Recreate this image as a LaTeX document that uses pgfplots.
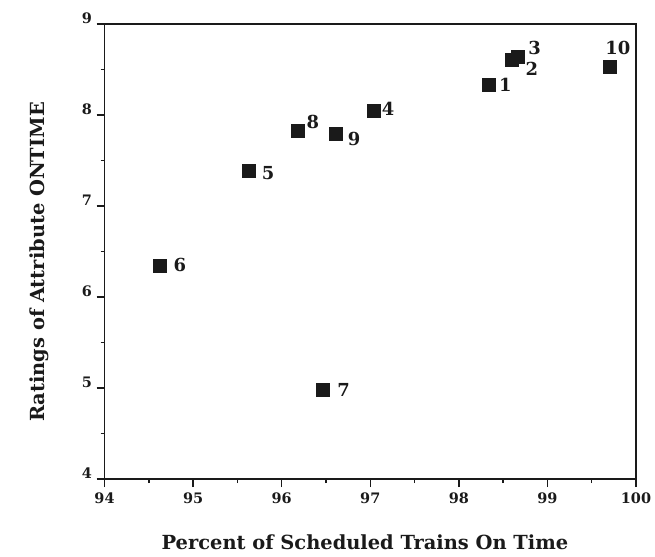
\documentclass[border=0pt]{standalone}
\usepackage{pgfplots}
\pgfplotsset{compat=1.18}
\usepackage{pgfplotstable}
\usepackage{fontspec}
\setmainfont{DejaVu Serif}

% x: percent on time, y: rating, lbl: train id, dx/dy: label offset (bp, dy downward)
\pgfplotstableread{
x      y     lbl  dx    dy
98.34  8.33  1    10    0
98.60  8.61  2    13.5  9.7
98.67  8.64  3    10   -9
99.70  8.53  10  -4.3  -18.7
97.04  8.05  4    8    -2
96.18  7.83  8    8.7  -8.7
96.61  7.80  9    12    6
95.63  7.39  5    12.7  2.5
94.62  6.34  6    14   -1
96.46  4.98  7    14.7  0
}\trains

\definecolor{ink}{HTML}{1A1A1A}

\begin{document}
\begin{tikzpicture}
\begin{axis}[
  name=ax,
  scale only axis,
  width=531.5bp, height=455bp,
  xmin=94, xmax=100, ymin=4, ymax=9,
  xtick={94,95,...,100}, ytick={4,5,...,9},
  minor tick num=1,
  tick pos=left,
  tick align=outside,
  major tick length=8bp,
  minor tick length=4bp,
  axis line style={line width=1.8bp, ink},
  every tick/.style={line width=1.5bp, ink},
  /pgf/number format/assume math mode=true,
  tick label style={font=\fontsize{14.5}{15}\selectfont\bfseries, text=ink},
  yticklabel style={yshift=6bp, xshift=-1bp},
  xticklabel style={yshift=-2bp},
  xlabel={Percent of Scheduled Trains On Time},
  ylabel={Ratings of Attribute ONTIME},
  label style={font=\fontsize{19.5}{21}\selectfont\bfseries, text=ink},
  xlabel style={at={(ticklabel cs:0.49)}, yshift=-24bp},
  ylabel style={at={(ticklabel cs:0.477)}, yshift=26bp},
  clip=false,
]
\addplot[
  only marks,
  mark=square*,
  mark size=6.5bp,
  mark options={fill=ink, draw=ink},
  point meta=explicit symbolic,
  visualization depends on={\thisrow{dx} \as \dx},
  visualization depends on={\thisrow{dy} \as \dy},
  nodes near coords,
  every node near coord/.style={
    anchor=west, inner sep=0pt,
    xshift=\dx bp, yshift=-\dy bp,
    font=\fontsize{18}{19}\selectfont\bfseries, text=ink},
] table[x=x, y=y, meta=lbl] {\trains};
\end{axis}
\pgfresetboundingbox
\path ([shift={(-104.5bp,-77bp)}]ax.south west) rectangle ([shift={(19bp,24bp)}]ax.north east);
\end{tikzpicture}
\end{document}
